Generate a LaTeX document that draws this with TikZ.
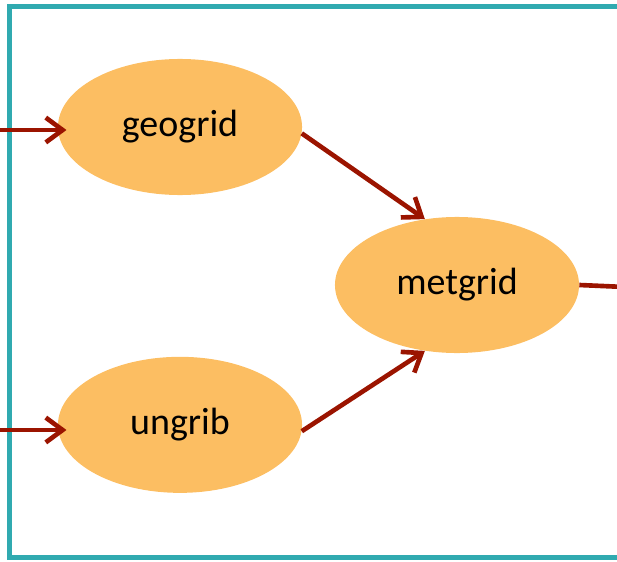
\documentclass[tikz,border=0pt]{standalone}
\usepackage{fontspec}
\setmainfont{Carlito}
\usetikzlibrary{positioning,shapes.geometric,arrows.meta}
\usepackage{xcolor}
\definecolor{frameteal}{RGB}{48,170,176}
\definecolor{flowred}{RGB}{155,20,0}
\definecolor{taskfill}{RGB}{252,190,98}

\begin{document}
\begin{tikzpicture}
[x=0.025cm, y=0.025cm,
% The task style is used to draw the programs
task/.style={ellipse, fill=taskfill, inner sep=0pt, minimum width=6.1cm, minimum height=3.4cm, font=\fontsize{27}{31}\selectfont},
% The flow style is used to draw the data paths
flow/.style={draw=flowred, line width=3.3pt, -{Straight Barb[length=0.42cm, width=0.62cm]}}
]
\useasboundingbox (0,0) rectangle (617,561);
% Draw frame
\draw[frameteal, line width=3.3pt] (640,3.5) -- (9.5,3.5) -- (9.5,554.5) -- (640,554.5);

% Draw programs
\node [task] (geogrid) at (180,434) {geogrid};
\node [task, below=4.03cm of geogrid] (ungrib) {ungrib};
\node [task] (metgrid) at (457,276) {metgrid};

\coordinate (ingeo) at (0,431);
\coordinate (inungrib) at (0,131);
\coordinate (out) at (625,274);

% Draw paths
\draw[flow, shorten >=-0.22cm] (ingeo) -- (geogrid.west |- ingeo);
\draw[flow, shorten >=-0.22cm] (inungrib) -- (ungrib.west |- inungrib);
\draw[flow] (geogrid.-3) -- (metgrid.116);
\draw[flow] (ungrib.-3) -- (metgrid.-116);
\draw[draw=flowred, line width=3.3pt] (metgrid.east) -- (out);
\end{tikzpicture}
\end{document}
